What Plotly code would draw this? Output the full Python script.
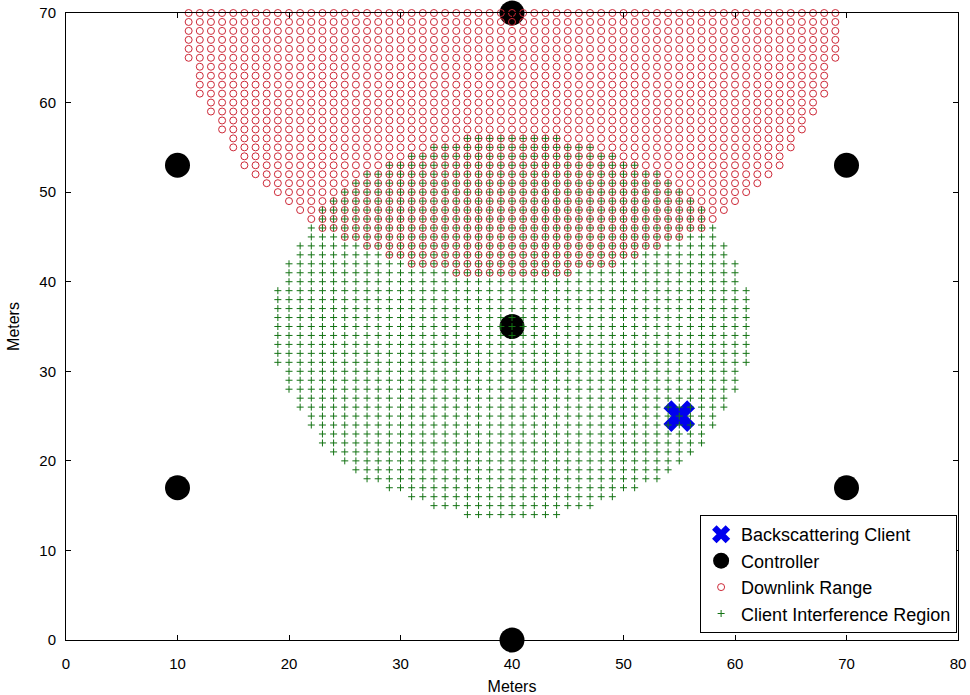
import plotly.graph_objects as go

# ---------------- data ----------------
# Backscattering client position
client_x = [55]
client_y = [25]

# Controller positions
ctrl_x = [10, 10, 40, 40, 40, 70, 70]
ctrl_y = [17, 53, 0, 35, 70, 17, 53]

# Downlink Range: grid rows (1 m spacing), x extent of each row
red_rows_y = [70, 69, 68, 67, 66, 65, 64, 63, 62, 61, 60, 59, 58, 57, 56,
              55, 54, 53, 52, 51, 50, 49, 48, 47, 46, 45, 44, 43, 42, 41]
red_xmin = [11, 11, 11, 11, 11, 11, 12, 12, 12, 12, 13, 13, 14, 14, 15,
            15, 16, 16, 17, 18, 19, 20, 21, 22, 23, 25, 27, 29, 31, 35]
red_xmax = [69, 69, 69, 69, 69, 69, 68, 68, 68, 68, 67, 67, 66, 66, 65,
            65, 64, 64, 63, 62, 61, 60, 59, 58, 57, 55, 53, 51, 49, 45]

# Client Interference Region: grid rows, x extent of each row
green_rows_y = [56, 55, 54, 53, 52, 51, 50, 49, 48, 47, 46, 45, 44, 43, 42,
                41, 40, 39, 38, 37, 36, 35, 34, 33, 32, 31, 30, 29, 28, 27,
                26, 25, 24, 23, 22, 21, 20, 19, 18, 17, 16, 15, 14]
green_xmin = [36, 33, 31, 29, 27, 26, 25, 24, 23, 23, 22, 22, 21, 21, 20,
              20, 20, 19, 19, 19, 19, 19, 19, 19, 19, 19, 20, 20, 20, 21,
              21, 22, 22, 23, 23, 24, 25, 26, 27, 29, 31, 33, 36]
green_xmax = [44, 47, 49, 51, 53, 54, 55, 56, 57, 57, 58, 58, 59, 59, 60,
              60, 60, 61, 61, 61, 61, 61, 61, 61, 61, 61, 60, 60, 60, 59,
              59, 58, 58, 57, 57, 56, 55, 54, 53, 51, 49, 47, 44]

x_ticks = [0, 10, 20, 30, 40, 50, 60, 70, 80]
y_ticks = [0, 10, 20, 30, 40, 50, 60, 70]


def expand(rows, xmins, xmaxs):
    xs, ys = [], []
    for yv, a, b in zip(rows, xmins, xmaxs):
        for xv in range(a, b + 1):
            xs.append(xv)
            ys.append(yv)
    return xs, ys


red_x, red_y = expand(red_rows_y, red_xmin, red_xmax)
green_x, green_y = expand(green_rows_y, green_xmin, green_xmax)

FONT = "Liberation Sans, Arial, Helvetica, sans-serif"

fig = go.Figure()

fig.add_trace(go.Scatter(
    x=client_x, y=client_y, mode="markers", name="Backscattering Client",
    marker=dict(symbol="x", size=28, color="#0000ee", line=dict(width=0)),
    cliponaxis=False))

fig.add_trace(go.Scatter(
    x=ctrl_x, y=ctrl_y, mode="markers", name="Controller",
    marker=dict(symbol="circle", size=25, color="black", line=dict(width=0)),
    cliponaxis=False))

fig.add_trace(go.Scatter(
    x=red_x, y=red_y, mode="markers", name="Downlink Range",
    marker=dict(symbol="circle-open", size=7, color="rgb(205,40,55)",
                line=dict(width=1)),
    cliponaxis=False))

fig.add_trace(go.Scatter(
    x=green_x, y=green_y, mode="markers", name="Client Interference Region",
    marker=dict(symbol="cross-thin-open", size=5, color="rgb(20,115,20)",
                line=dict(width=1, color="rgb(20,115,20)")),
    cliponaxis=False))

axis_common = dict(
    showgrid=False, zeroline=False, showline=True, linecolor="black",
    linewidth=1, mirror="ticks", ticks="inside", ticklen=5, tickcolor="black",
    automargin=False,
    tickfont=dict(family=FONT, size=15, color="black"),
)

fig.update_layout(
    width=970, height=695,
    margin=dict(l=66, r=12, t=13, b=55),
    paper_bgcolor="white", plot_bgcolor="white",
    font=dict(family=FONT, color="black"),
    xaxis=dict(range=[0, 80], tickvals=x_ticks, ticklabelstandoff=10,
               title=dict(text="Meters", font=dict(family=FONT, size=16)),
               **axis_common),
    yaxis=dict(range=[0, 70], tickvals=y_ticks, ticklabelstandoff=6,
               title=dict(text="Meters", font=dict(family=FONT, size=16)),
               **axis_common),
    legend=dict(x=0.999, xanchor="right", y=0.011, yanchor="bottom",
                bordercolor="black", borderwidth=1, bgcolor="white",
                font=dict(family=FONT, size=18, color="black"),
                tracegroupgap=0),
    showlegend=True,
)

fig.write_html("out.html")
